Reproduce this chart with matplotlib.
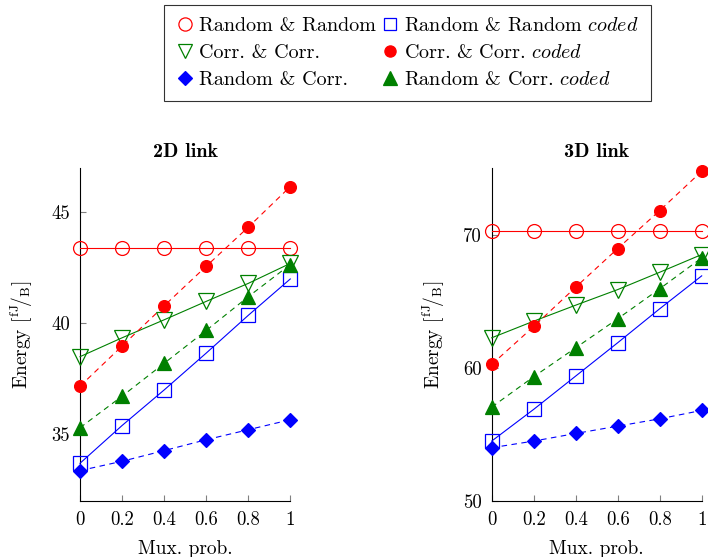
import matplotlib
matplotlib.use("Agg")
import matplotlib.pyplot as plt
from matplotlib.lines import Line2D

plt.rcParams["font.family"] = "cmr10"
plt.rcParams["mathtext.fontset"] = "cm"
plt.rcParams["axes.formatter.use_mathtext"] = True

# Mux probability
mux = [0, 0.2, 0.4, 0.6, 0.8, 1]

# 2D link energy [fJ/B]
rr_2d = [43.4, 43.4, 43.4, 43.4, 43.4, 43.4]
rr_coded_2d = [33.7, 35.4, 37.0, 38.66, 40.36, 42.0]
cc_2d = [38.5, 39.35, 40.16, 40.99, 41.8, 42.7]
cc_coded_2d = [37.17, 38.98, 40.79, 42.57, 44.33, 46.16]
rc_2d = [33.37, 33.79, 34.27, 34.76, 35.21, 35.66]
rc_coded_2d = [35.3, 36.72, 38.2, 39.68, 41.2, 42.65]

# 3D link energy [fJ/B]
rr_3d = [70.3, 70.3, 70.3, 70.3, 70.3, 70.3]
rr_coded_3d = [54.5, 56.88, 59.38, 61.88, 64.43, 66.9]
cc_3d = [62.25, 63.5, 64.7, 65.87, 67.17, 68.5]
cc_coded_3d = [60.25, 63.1, 66.05, 68.95, 71.8, 74.75]
rc_3d = [54.0, 54.5, 55.07, 55.62, 56.17, 56.8]
rc_coded_3d = [57.05, 59.33, 61.5, 63.68, 65.93, 68.25]

labels = ["Random & Random", r"Random & Random $\mathit{coded}$",
          "Corr. & Corr.", r"Corr. & Corr. $\mathit{coded}$",
          "Random & Corr.", r"Random & Corr. $\mathit{coded}$"]

# (color, marker, filled, linestyle, markersize)
styles = [
    ("red", "o", False, "-", 10),
    ("blue", "s", False, "-", 9.5),
    ("green", "v", False, "-", 11),
    ("red", "o", True, "--", 8.5),
    ("blue", "D", True, "--", 7.5),
    ("green", "^", True, "--", 10),
]

fig = plt.figure(figsize=(7.08, 5.57), dpi=100)
ax1 = fig.add_axes([0.113, 0.1005, 0.297, 0.598])
ax2 = fig.add_axes([0.6945, 0.1005, 0.2966, 0.598])

panels = [
    (ax1, [rr_2d, rr_coded_2d, cc_2d, cc_coded_2d, rc_2d, rc_coded_2d],
     "2D link", (32, 47), [35, 40, 45]),
    (ax2, [rr_3d, rr_coded_3d, cc_3d, cc_coded_3d, rc_3d, rc_coded_3d],
     "3D link", (50, 75), [50, 60, 70]),
]

for ax, series, title, ylim, yticks in panels:
    for i in range(6):
        color, marker, filled, ls, ms = styles[i]
        line = ax.plot(mux, series[i], color=color, marker=marker, ls=ls,
                       lw=0.8, ms=ms, mew=0.9,
                       mfc=color if filled else "none", mec=color,
                       clip_on=False, zorder=3 + i)[0]
        if ls == "--":
            line.set_dashes((5, 4))
    ax.set_xlim(0, 1)
    ax.set_ylim(*ylim)
    ax.set_xticks(mux)
    ax.set_xticklabels(["0", "0.2", "0.4", "0.6", "0.8", "1"])
    ax.set_yticks(yticks)
    ax.set_yticklabels([str(t) for t in yticks])
    ax.spines["top"].set_visible(False)
    ax.spines["right"].set_visible(False)
    ax.tick_params(direction="in", length=4, color="gray", labelsize=13.5,
                   pad=7)
    ax.set_title(title, fontsize=14.5, family="cmb10", pad=8)
    ax.set_xlabel("Mux. prob.", fontsize=14, labelpad=8)
    ax.set_ylabel(r"Energy [$^{\mathrm{fJ}}\!/_{\mathrm{B}}$]", fontsize=14,
                  labelpad=12)

# legend proxies, reordered so the 2-column legend reads row by row
handles = []
for i in range(6):
    color, marker, filled, ls, ms = styles[i]
    handles.append(Line2D([], [], color=color, marker=marker, ls="none",
                          ms=ms * 0.95, mew=0.9,
                          mfc=color if filled else "none", mec=color))
idx = [0, 2, 4, 1, 3, 5]
leg = fig.legend([handles[i] for i in idx], [labels[i] for i in idx],
                 loc="upper center", bbox_to_anchor=(0.5756, 0.999), ncol=2,
                 fontsize=14.5, frameon=True, fancybox=False, edgecolor="black",
                 handlelength=0.8, handletextpad=0.3, columnspacing=0.3,
                 labelspacing=0.45, borderpad=0.6, borderaxespad=0.2)
leg.get_frame().set_linewidth(0.8)

fig.savefig("out.png", dpi=100)
